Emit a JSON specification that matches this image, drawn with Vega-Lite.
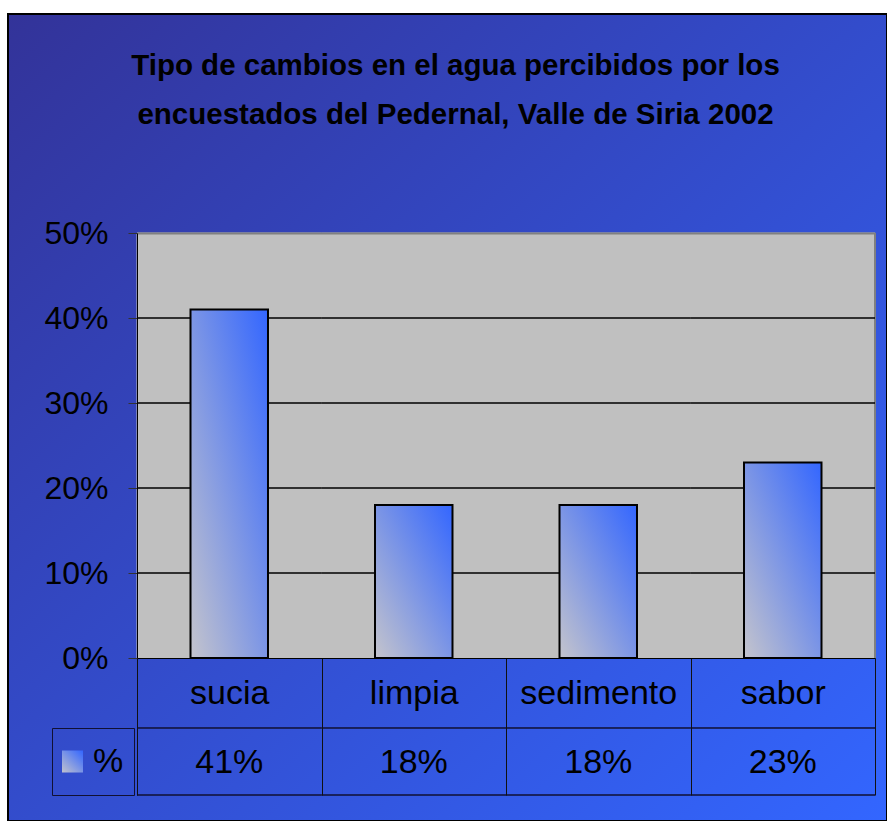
{
  "$schema": "https://vega.github.io/schema/vega-lite/v6.json",
  "width": 879,
  "height": 807,
  "autosize": {"type": "none"},
  "padding": {"left": 8, "top": 14, "right": 0, "bottom": 0},
  "background": "white",
  "title": {
    "text": ["Tipo de cambios en el agua percibidos por los", "encuestados del Pedernal, Valle de Siria 2002"],
    "orient": "top",
    "anchor": "middle",
    "frame": "group",
    "offset": -139,
    "baseline": "alphabetic",
    "dx": 8,
    "font": "Liberation Sans",
    "fontSize": 29.5,
    "fontWeight": "bold",
    "color": "#000000",
    "lineHeight": 49
  },
  "config": {
    "font": "Liberation Sans",
    "view": {
      "fill": {"gradient": "linear", "x1": 0, "y1": 0, "x2": 1, "y2": 1, "stops": [{"offset": 0, "color": "#333399"}, {"offset": 1, "color": "#3366ff"}]},
      "stroke": "#000000",
      "strokeWidth": 2
    }
  },
  "data": {
    "values": [
      {"cambio": "sucia", "pct": 0.41},
      {"cambio": "limpia", "pct": 0.18},
      {"cambio": "sedimento", "pct": 0.18},
      {"cambio": "sabor", "pct": 0.23}
    ]
  },
  "encoding": {
    "x": {
      "field": "cambio",
      "type": "nominal",
      "sort": null,
      "scale": {"range": [129, 867], "paddingInner": 0, "paddingOuter": 0},
      "axis": {
        "title": null,
        "orient": "bottom",
        "offset": -163,
        "domainColor": "#000000",
        "domainWidth": 1,
        "tickBand": "extent",
        "tickSize": 137,
        "tickColor": "#111111",
        "tickWidth": 1,
        "labelFontSize": 34,
        "labelFont": "Liberation Sans",
        "labelColor": "#000000",
        "labelPadding": -92,
        "labelBaseline": "alphabetic",
        "labelAngle": 0,
        "grid": false,
        "zindex": 1
      }
    }
  },
  "layer": [
    {
      "mark": {"type": "rect", "fill": "#C0C0C0", "stroke": "#C0C0C0", "strokeWidth": 1},
      "encoding": {
        "y": {
          "datum": 0,
          "type": "quantitative",
          "scale": {"domain": [0, 0.5], "range": [644, 219], "nice": false, "zero": false},
          "axis": {
            "title": null,
            "offset": -129,
            "values": [0, 0.1, 0.2, 0.3, 0.4, 0.5],
            "format": ".0%",
            "labelFontSize": 32,
            "labelFont": "Liberation Sans",
            "labelColor": "#000000",
            "labelPadding": 20,
            "labelBaseline": "middle",
            "labelOverlap": false,
            "tickSize": 9,
            "tickColor": "#333333",
            "domainColor": "#000000",
            "domainWidth": 1,
            "grid": true,
            "gridColor": "#808080",
            "gridWidth": 2,
            "gridOpacity": {"condition": {"test": "datum.value > 0.45", "value": 1}, "value": 0},
            "zindex": 1
          }
        },
        "y2": {"datum": 0.5}
      }
    },
    {
      "data": {"values": [{}]},
      "mark": {"type": "rule", "stroke": "#808080", "strokeWidth": 2},
      "encoding": {"x": {"datum": "sabor", "bandPosition": 1}, "y": {"datum": 0}, "y2": {"datum": 0.5}}
    },
    {
      "mark": {"type": "rect", "fill": "transparent", "stroke": "#000000", "strokeWidth": 1},
      "encoding": {"y": {"datum": 0.1}, "y2": {"datum": 0.1}}
    },
    {
      "mark": {"type": "rect", "fill": "transparent", "stroke": "#000000", "strokeWidth": 1},
      "encoding": {"y": {"datum": 0.2}, "y2": {"datum": 0.2}}
    },
    {
      "mark": {"type": "rect", "fill": "transparent", "stroke": "#000000", "strokeWidth": 1},
      "encoding": {"y": {"datum": 0.3}, "y2": {"datum": 0.3}}
    },
    {
      "mark": {"type": "rect", "fill": "transparent", "stroke": "#000000", "strokeWidth": 1},
      "encoding": {"y": {"datum": 0.4}, "y2": {"datum": 0.4}}
    },
    {
      "mark": {"type": "rect", "fill": "transparent", "stroke": "#111133", "strokeWidth": 1},
      "encoding": {"y": {"datum": -0.08235}, "y2": {"datum": -0.08235}}
    },
    {
      "mark": {"type": "rect", "fill": "transparent", "stroke": "#111133", "strokeWidth": 1},
      "encoding": {"y": {"datum": -0.16118}, "y2": {"datum": -0.16118}}
    },
    {
      "mark": {
        "type": "bar",
        "stroke": "#000000",
        "strokeWidth": 2,
        "width": {"band": 0.42},
        "fill": {"gradient": "linear", "x1": 0, "y1": 1, "x2": 1, "y2": 0, "stops": [{"offset": 0, "color": "#c4c4cc"}, {"offset": 1, "color": "#3366ff"}]}
      },
      "encoding": {
        "y": {"field": "pct", "type": "quantitative"},
        "opacity": {
          "datum": "%",
          "type": "nominal",
          "scale": {"range": [1]},
          "legend": {
            "orient": "none",
            "legendX": 44,
            "legendY": 714,
            "title": null,
            "padding": 10,
            "strokeColor": "#111133",
            "symbolType": "square",
            "symbolSize": 484,
            "symbolOffset": -7,
            "symbolStrokeColor": "#000000",
            "symbolStrokeWidth": 2,
            "labelFontSize": 34,
            "labelFont": "Liberation Sans",
            "labelColor": "#000000",
            "labelOffset": 4,
            "clipHeight": 47,
            "encode": {
              "symbols": {
                "stroke": {"value": "#000000"},
                "strokeWidth": {"value": 2}
              }
            }
          }
        }
      }
    },
    {
      "mark": {"type": "text", "fontSize": 34, "baseline": "alphabetic", "font": "Liberation Sans", "color": "#000000"},
      "encoding": {
        "y": {"datum": -0.13529},
        "text": {"field": "pct", "type": "quantitative", "format": ".0%"}
      }
    }
  ]
}
